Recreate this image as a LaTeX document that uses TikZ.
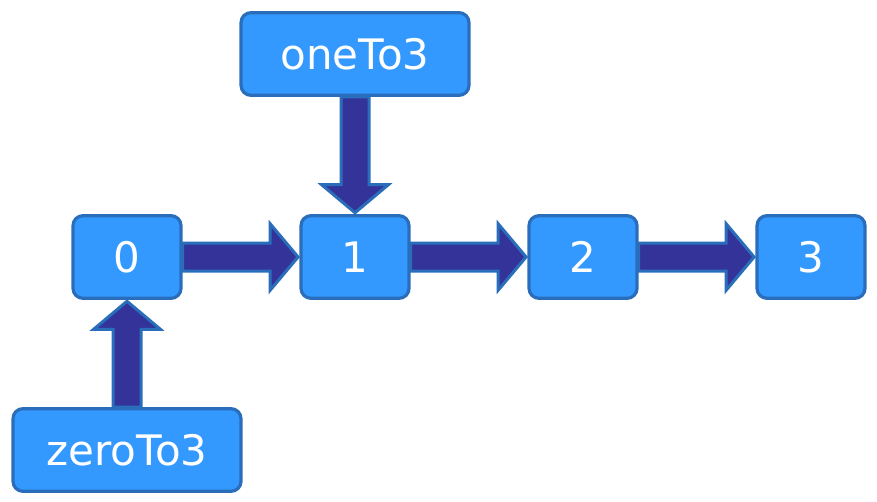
\documentclass[tikz,border=0pt]{standalone}
\usepackage{fontspec}
\setmainfont{DejaVu Sans}
\usepackage{xcolor}
\usepackage{tikz}
\usetikzlibrary{calc}
\definecolor{SkyBlue}{HTML}{3399FF}
\definecolor{EdgeBlue}{HTML}{2A6EBB}
\definecolor{Indigo}{HTML}{333399}
\tikzset{
  numbox/.style={draw=EdgeBlue,line width=2.4pt,rounded corners=7.5pt,fill=SkyBlue,
              text=white,minimum width=81pt,minimum height=62pt,inner sep=0pt,
              font=\fontsize{31.5}{36}\selectfont},
  widebox/.style={numbox,minimum width=171pt},
  fatflow/.style={draw=EdgeBlue,fill=Indigo,line width=2.25pt,line join=miter,
    to path={let \p1=(\tikztostart), \p2=(\tikztotarget),
      \n1={atan2(\y2-\y1,\x2-\x1)}, \n2={veclen(\x2-\x1,\y2-\y1)} in
      {[shift={(\p1)},rotate=\n1]
       (0pt,10.5pt) -- (\n2-22pt,10.5pt) -- (\n2-22pt,25pt) -- (\n2-1pt,0pt)
       -- (\n2-22pt,-25pt) -- (\n2-22pt,-10.5pt) -- (0pt,-10.5pt) -- cycle}}}
}
\begin{document}
\begin{tikzpicture}[x=0.75pt,y=-0.75pt]
  \useasboundingbox (0,0) rectangle (877,502);
  \node[numbox] (n0) at (127,257) {0};
  \node[numbox] (n1) at (355,257) {1};
  \node[numbox] (n2) at (583,257) {2};
  \node[numbox] (n3) at (811,257) {3};
  \node[widebox] (one) at (355,54) {oneTo3};
  \node[widebox] (zero) at (127,450) {zeroTo3};
  \draw[fatflow] (n0.east) to (n1.west);
  \draw[fatflow] (n1.east) to (n2.west);
  \draw[fatflow] (n2.east) to (n3.west);
  \draw[fatflow] (one.south) to (n1.north);
  \draw[fatflow] (zero.north) to (n0.south);
\end{tikzpicture}
\end{document}
